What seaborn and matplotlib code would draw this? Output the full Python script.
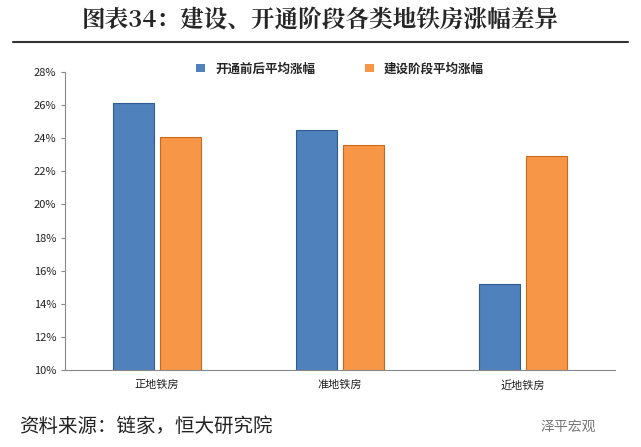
import matplotlib
matplotlib.use('Agg')
import matplotlib.pyplot as plt
import seaborn as sns
import pandas as pd
from matplotlib.ticker import FuncFormatter

sns.set_style('white')
plt.rcParams['font.family'] = ['Noto Sans CJK SC', 'DejaVu Sans']

categories = ['正地铁房', '准地铁房', '近地铁房']
series = ['开通前后平均涨幅', '建设阶段平均涨幅']
open_vals = [26.1, 24.5, 15.2]
build_vals = [24.1, 23.6, 22.9]

df = pd.DataFrame({
    'cat': categories * 2,
    'series': [series[0]] * 3 + [series[1]] * 3,
    'val': open_vals + build_vals,
})

fig = plt.figure(figsize=(6.41, 4.47), dpi=100)
ax = fig.add_axes([0.102, 0.172, 0.857, 0.667])
sns.barplot(data=df, x='cat', y='val', hue='series', palette=['#4F81BD', '#F79646'],
            saturation=1, width=0.52, gap=0.14, ax=ax, edgecolor='none')
for i, p in enumerate(ax.patches[:6]):
    p.set_edgecolor('#2E5C8F' if i < 3 else '#C96A1A')
    p.set_linewidth(0.8)

ax.set_ylim(10, 28)
ax.set_yticks(range(10, 29, 2))
ax.yaxis.set_major_formatter(FuncFormatter(lambda v, _: f'{v:.0f}%'))
ax.set_xlabel('')
ax.set_ylabel('')
ax.tick_params(axis='both', labelsize=8, colors='#222222')
for s in ['top', 'right']:
    ax.spines[s].set_visible(False)
for s in ['left', 'bottom']:
    ax.spines[s].set_color('#888888')
ax.tick_params(axis='y', left=True, length=3, color='#888888')
ax.legend(loc='upper center', bbox_to_anchor=(0.5, 1.07), ncol=2, frameon=False,
          handlelength=0.7, handleheight=0.7, columnspacing=4,
          prop={'weight': 'bold', 'size': 9})

fig.text(0.5, 0.955, '图表34：建设、开通阶段各类地铁房涨幅差异', ha='center', va='center',
         fontsize=17, weight='bold', family=['Noto Serif CJK SC', 'Noto Sans CJK SC'])
fig.add_artist(plt.Line2D([0.02, 0.98], [0.905, 0.905], color='#333333', lw=1.5))
fig.text(0.03, 0.045, '资料来源：链家，恒大研究院', ha='left', va='center', fontsize=14,
         style='italic', color='#222222')
fig.text(0.93, 0.045, '泽平宏观', ha='right', va='center', fontsize=10, color='#777777')

fig.savefig('out.png', dpi=100)
